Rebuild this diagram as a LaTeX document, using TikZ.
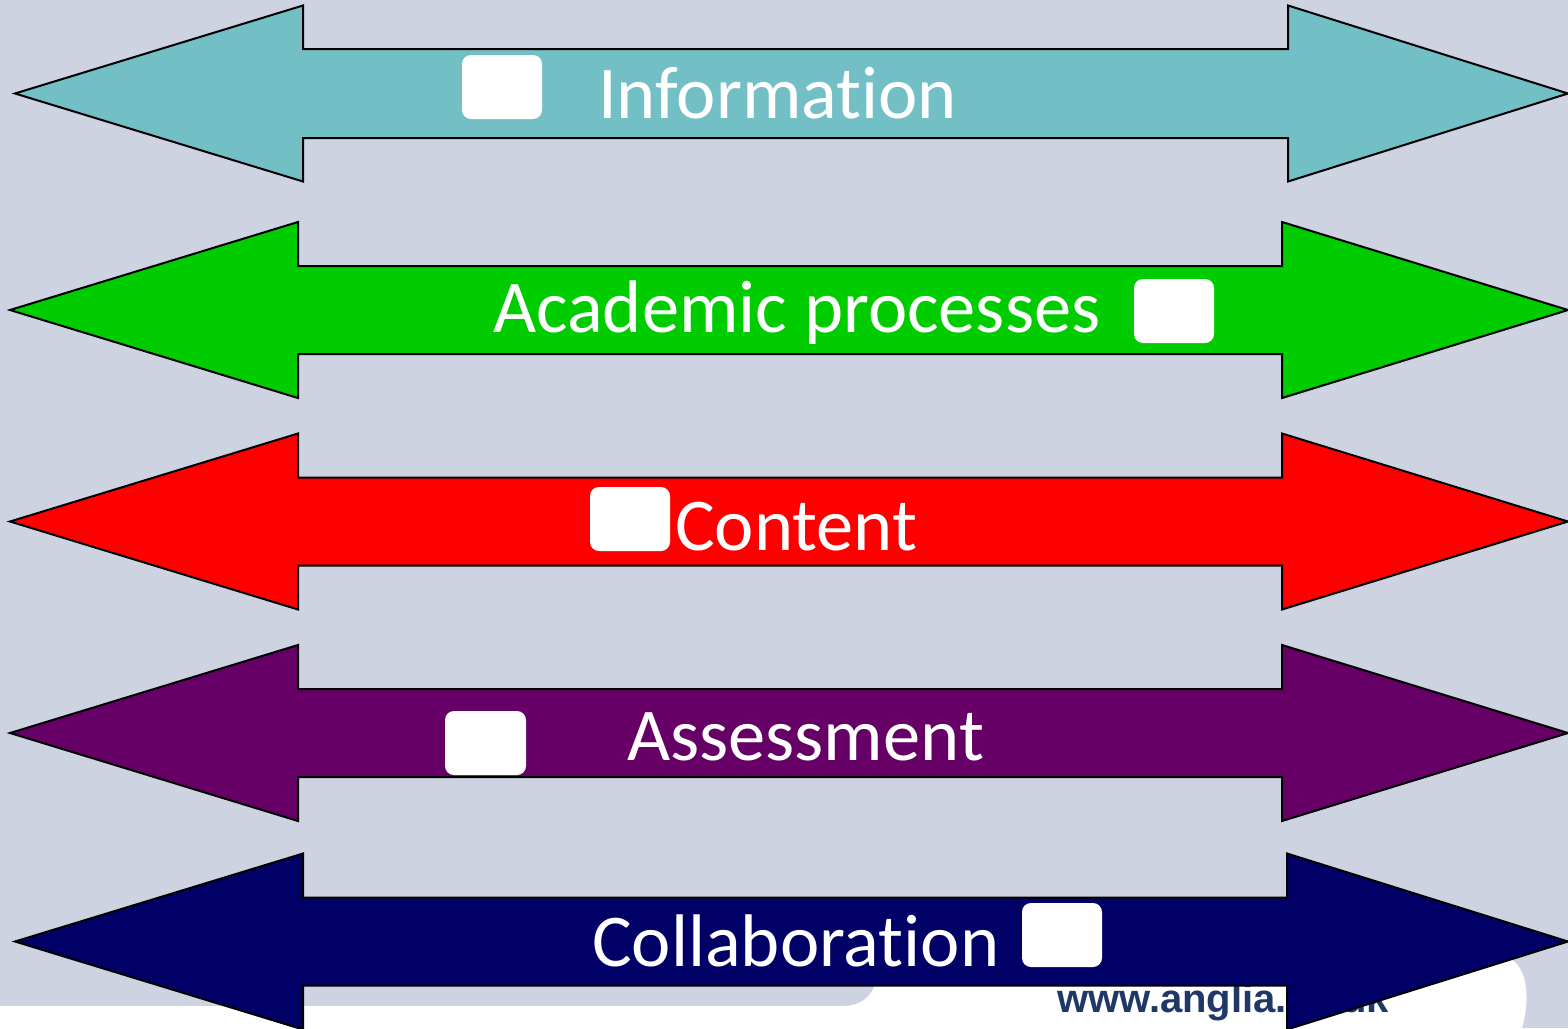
\documentclass[tikz,border=0pt]{standalone}
\usepackage{fontspec}
\setmainfont[Ligatures={NoCommon,NoRequired,NoContextual}]{Carlito}
\newfontfamily\urlfont{Liberation Sans}
\definecolor{bgc}{HTML}{CED3E2}
\definecolor{teal1}{HTML}{72BFC5}
\definecolor{green1}{HTML}{00CC00}
\definecolor{red1}{HTML}{FF0000}
\definecolor{purple1}{HTML}{660066}
\definecolor{navy1}{HTML}{000066}
\definecolor{urlc}{HTML}{1F3868}
\newcommand\dbarrow[8]{%
  \filldraw[fill=#8, arrowshape] (#1,#5) -- (#2,#5-#6) -- (#2,#5-#7) -- (#3,#5-#7) -- (#3,#5-#6) -- (#4,#5)
    -- (#3,#5+#6) -- (#3,#5+#7) -- (#2,#5+#7) -- (#2,#5+#6) -- cycle;}
\begin{document}
\begin{tikzpicture}[x=1pt,y=-1pt,
  arrowshape/.style={draw=black, line width=2pt, line join=miter},
  lbl/.style={text=white, inner sep=0pt, anchor=base west, font=\fontsize{74.5}{88}\selectfont},
  imgbox/.style={fill=white, rounded corners=9pt}]
\useasboundingbox (0,0) rectangle (1568,1028);
\fill[bgc] (0,0) rectangle (1568,1028);
% white footer area of the slide
\fill[white] (0,1006) -- (845,1006) .. controls (866,1004) and (873,994) .. (878,975)
  -- (1500,955) .. controls (1530,960) and (1530,1000) .. (1522,1028) -- (0,1028) -- cycle;
\node[inner sep=0pt, anchor=base west, text=urlc, font=\urlfont\bfseries\fontsize{40}{48}\selectfont] (url) at (1057,1012) {www.anglia.ac.uk};
% arrows
\dbarrow{15}{303}{1288}{1568}{93.5}{88}{44.5}{teal1}
\dbarrow{10}{298}{1282}{1568}{310}{88}{44}{green1}
\dbarrow{10}{298}{1282}{1568}{521.5}{88}{44}{red1}
\dbarrow{10}{298}{1282}{1568}{733}{88}{44}{purple1}
\dbarrow{15}{303}{1287}{1568}{941.5}{88}{44}{navy1}
% image placeholders
\fill[imgbox] (462,55) rectangle (542,119);
\fill[imgbox] (1134,279) rectangle (1214,343);
\fill[imgbox] (590,487) rectangle (670,551);
\fill[imgbox] (445,711) rectangle (526,775);
\fill[imgbox] (1022,903) rectangle (1102,967);
% labels
\node[lbl] (info) at (598,118) {Information};
\node[lbl] (acad) at (493,332) {Academic processes};
\node[lbl] (cont) at (675,550) {Content};
\node[lbl] (asse) at (627,760) {Assessment};
\node[lbl] (coll) at (592,966) {Collaboration};
\end{tikzpicture}
\end{document}
